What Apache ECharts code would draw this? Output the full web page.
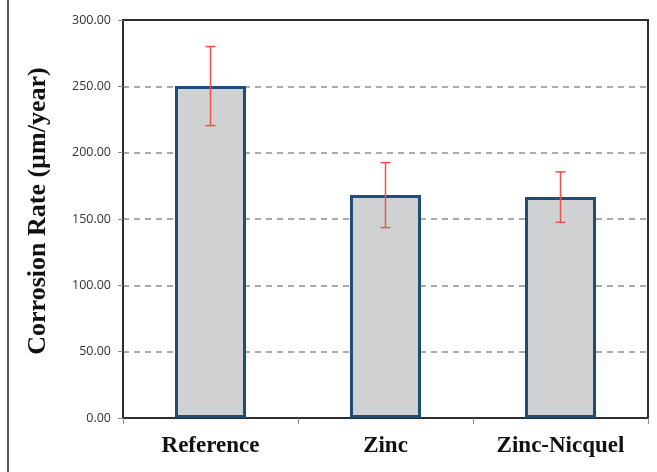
<!DOCTYPE html>
<html>
<head>
<meta charset="utf-8">
<script src="https://cdn.jsdelivr.net/npm/echarts@6/dist/echarts.min.js"></script>
<style>
  html, body { margin: 0; padding: 0; background: #ffffff; }
  #chart { width: 657px; height: 472px; }
</style>
</head>
<body>
<div id="chart"></div>
<script>
// Mean corrosion rate per coating, with the spread shown as error bars
const categories = ['Reference', 'Zinc', 'Zinc-Nicquel'];
const corrosionRate = [250.2, 168.0, 166.5];
const errorHalf = [29.8, 24.5, 19.0];
const yTicks = [0, 50, 100, 150, 200, 250, 300];

const chart = echarts.init(document.getElementById('chart'));

const errorData = categories.map((c, i) => [i, corrosionRate[i] - errorHalf[i], corrosionRate[i] + errorHalf[i]]);

chart.setOption({
  animation: false,
  grid: {
    left: 123, right: 9, top: 20, bottom: 54,
    show: true, borderColor: '#2b2f33', borderWidth: 2, backgroundColor: 'transparent'
  },
  xAxis: {
    type: 'category',
    data: categories,
    axisLine: { show: true, lineStyle: { color: '#2b2f33', width: 2 } },
    axisTick: { show: true, length: 6, lineStyle: { color: '#8a8a8a', width: 1 } },
    axisLabel: {
      margin: 17, color: '#111111',
      fontFamily: 'Liberation Serif', fontWeight: 'bold', fontSize: 23
    }
  },
  yAxis: {
    type: 'value',
    min: yTicks[0], max: yTicks[yTicks.length - 1], interval: 50,
    name: 'Corrosion Rate (µm/year)',
    nameLocation: 'middle',
    nameGap: 72,
    nameTextStyle: {
      fontFamily: 'Liberation Serif', fontWeight: 'bold', fontSize: 26, color: '#111111',
      padding: [0, 0, 0, 16]
    },
    axisLine: { show: true, lineStyle: { color: '#2b2f33', width: 2 } },
    axisTick: { show: true, length: 5, lineStyle: { color: '#8a8a8a', width: 1 } },
    axisLabel: {
      margin: 12, color: '#333333', fontFamily: 'Open Sans', fontSize: 12.5,
      formatter: v => v.toFixed(2)
    },
    splitLine: {
      show: true, showMinLine: false, showMaxLine: false,
      lineStyle: { color: '#8f8f8f', width: 1.5, type: [6, 5] }
    }
  },
  series: [
    {
      type: 'bar',
      data: corrosionRate,
      barWidth: 71,
      itemStyle: { color: '#d0d1d3', borderColor: '#1e4d78', borderWidth: 3 },
      z: 2
    },
    {
      type: 'custom',
      data: errorData,
      z: 5,
      renderItem: function (params, api) {
        const x = api.value(0);
        const lo = api.coord([x, api.value(1)]);
        const hi = api.coord([x, api.value(2)]);
        const cap = 5;
        const style = { stroke: '#f0504a', lineWidth: 1.5 };
        return {
          type: 'group',
          children: [
            { type: 'line', shape: { x1: hi[0], y1: hi[1], x2: lo[0], y2: lo[1] }, style: style },
            { type: 'line', shape: { x1: hi[0] - cap, y1: hi[1], x2: hi[0] + cap, y2: hi[1] }, style: style },
            { type: 'line', shape: { x1: lo[0] - cap, y1: lo[1], x2: lo[0] + cap, y2: lo[1] }, style: style }
          ]
        };
      }
    }
  ],
  graphic: [
    { type: 'line', shape: { x1: 8, y1: 0, x2: 8, y2: 472 }, style: { stroke: '#222222', lineWidth: 1.5 } }
  ]
});
</script>
</body>
</html>
